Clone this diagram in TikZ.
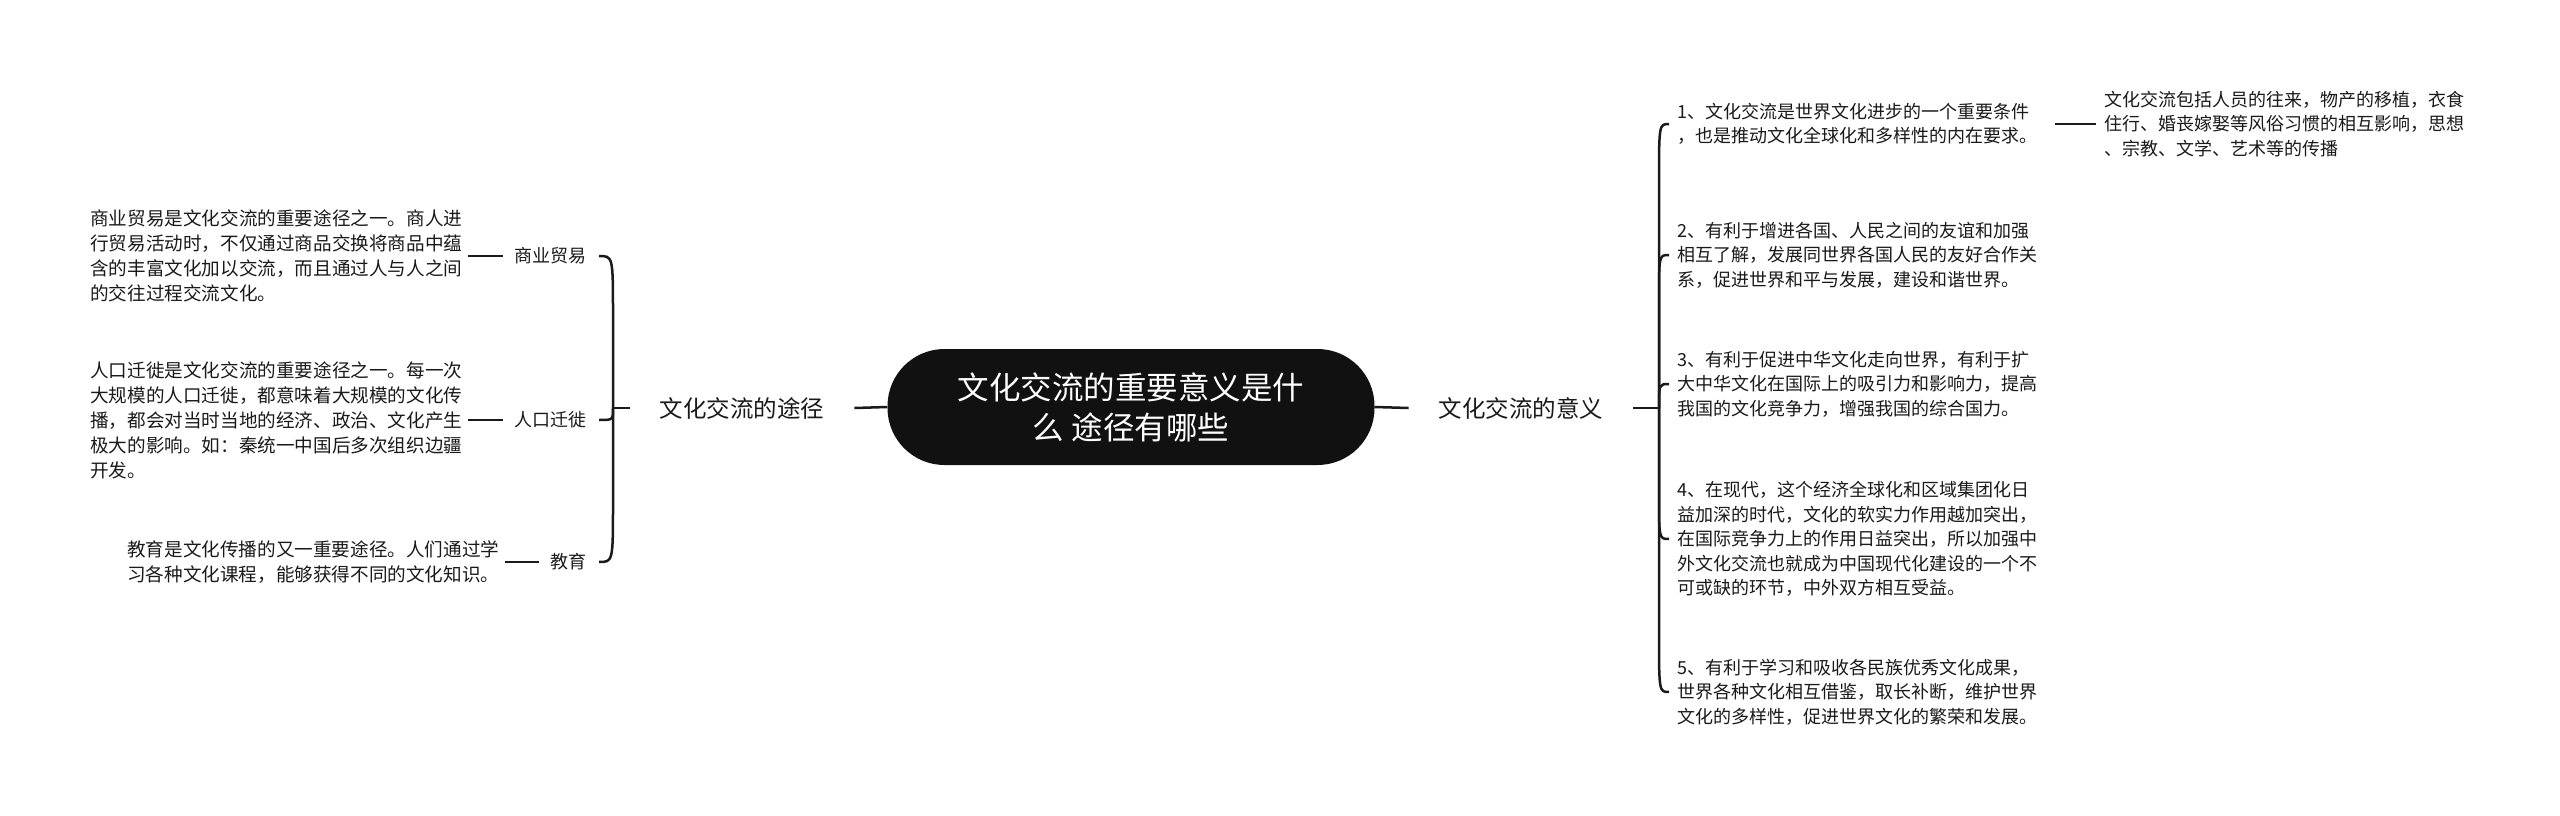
\documentclass[tikz,border=0pt]{standalone}
\usepackage{fontspec}
\setmainfont{Noto Sans CJK SC}
\usetikzlibrary{calc}
\definecolor{ink}{HTML}{1A1A1A}
\definecolor{pillc}{HTML}{111111}
\tikzset{
  conn/.style={draw=ink, line width=2.5pt},
  leafL/.style={anchor=west, align=left, inner xsep=6pt, inner ysep=2pt, text=ink, font=\fontsize{18.6}{25}\selectfont},
  leafR/.style={anchor=west, align=left, inner xsep=8pt, inner ysep=2pt, text=ink, font=\fontsize{18}{24.5}\selectfont},
  sublab/.style={inner xsep=12pt, text=ink, font=\fontsize{18}{24}\selectfont},
  mainlab/.style={inner xsep=30pt, text=ink, font=\fontsize{23.5}{28}\selectfont},
  root/.style={fill=pillc, text=white, rounded corners=57pt, minimum width=487pt, minimum height=116pt, align=center, font=\fontsize{31.5}{40}\selectfont},
}
\begin{document}
\begin{tikzpicture}[x=1pt,y=-1pt]
\path[use as bounding box, fill=white] (0,0) rectangle (2560,816);

\node[root] (root) at (1131,407) {文化交流的重要意义是什\\么 途径有哪些};

\node[mainlab] (way) at (742,408) {文化交流的途径};
\node[mainlab] (mean) at (1521,408) {文化交流的意义};

\coordinate (jl) at (613,408);
\coordinate (jr) at (1659,408);

% left sub labels
\node[sublab, anchor=east] (trade) at (599,256) {商业贸易};
\node[sublab, anchor=east] (mig) at (599,420) {人口迁徙};
\node[sublab, anchor=east] (edu) at (599,562) {教育};

% left leaves
\node[leafL] (ltrade) at (84,256) {商业贸易是文化交流的重要途径之一。商人进\\行贸易活动时，不仅通过商品交换将商品中蕴\\含的丰富文化加以交流，而且通过人与人之间\\的交往过程交流文化。};
\node[leafL] (lmig) at (84,420) {人口迁徙是文化交流的重要途径之一。每一次\\大规模的人口迁徙，都意味着大规模的文化传\\播，都会对当时当地的经济、政治、文化产生\\极大的影响。如：秦统一中国后多次组织边疆\\开发。};
\node[leafL] (ledu) at (121,562) {教育是文化传播的又一重要途径。人们通过学\\习各种文化课程，能够获得不同的文化知识。};

% right items
\node[leafR] (m1) at (1669,124) {1、文化交流是世界文化进步的一个重要条件\\，也是推动文化全球化和多样性的内在要求。};
\node[leafR] (m2) at (1669,255) {2、有利于增进各国、人民之间的友谊和加强\\相互了解，发展同世界各国人民的友好合作关\\系，促进世界和平与发展，建设和谐世界。};
\node[leafR] (m3) at (1669,384) {3、有利于促进中华文化走向世界，有利于扩\\大中华文化在国际上的吸引力和影响力，提高\\我国的文化竞争力，增强我国的综合国力。};
\node[leafR] (m4) at (1669,539) {4、在现代，这个经济全球化和区域集团化日\\益加深的时代，文化的软实力作用越加突出，\\在国际竞争力上的作用日益突出，所以加强中\\外文化交流也就成为中国现代化建设的一个不\\可或缺的环节，中外双方相互受益。};
\node[leafR] (m5) at (1669,692) {5、有利于学习和吸收各民族优秀文化成果，\\世界各种文化相互借鉴，取长补断，维护世界\\文化的多样性，促进世界文化的繁荣和发展。};
\node[leafR] (m1a) at (2096,124) {文化交流包括人员的往来，物产的移植，衣食\\住行、婚丧嫁娶等风俗习惯的相互影响，思想\\、宗教、文学、艺术等的传播};

% connectors
\draw[conn] (root.west) -- (way.east);
\draw[conn] (root.east) -- (mean.west);
\draw[conn] (way.west) -- (jl);
\draw[conn] (mean.east) -- (jr);

\draw[conn] (jl) -- ($(jl|-trade.east)+(0,60)$) .. controls (jl|-trade.east) .. (trade.east);
\draw[conn] (jl) .. controls (jl|-mig.east) .. (mig.east);
\draw[conn] (jl) -- ($(jl|-edu.east)+(0,-60)$) .. controls (jl|-edu.east) .. (edu.east);

\draw[conn] (ltrade.east) -- (trade.west);
\draw[conn] (lmig.east) -- (mig.west);
\draw[conn] (ledu.east) -- (edu.west);

\draw[conn] (jr) -- ($(jr|-m1.west)+(0,60)$) .. controls (jr|-m1.west) .. (m1.west);
\draw[conn] (jr) -- ($(jr|-m2.west)+(0,45)$) .. controls (jr|-m2.west) .. (m2.west);
\draw[conn] (jr) .. controls (jr|-m3.west) .. (m3.west);
\draw[conn] (jr) -- ($(jr|-m4.west)+(0,-45)$) .. controls (jr|-m4.west) .. (m4.west);
\draw[conn] (jr) -- ($(jr|-m5.west)+(0,-60)$) .. controls (jr|-m5.west) .. (m5.west);

\draw[conn, shorten <=10pt] (m1.east) -- (m1a.west);
\end{tikzpicture}
\end{document}
